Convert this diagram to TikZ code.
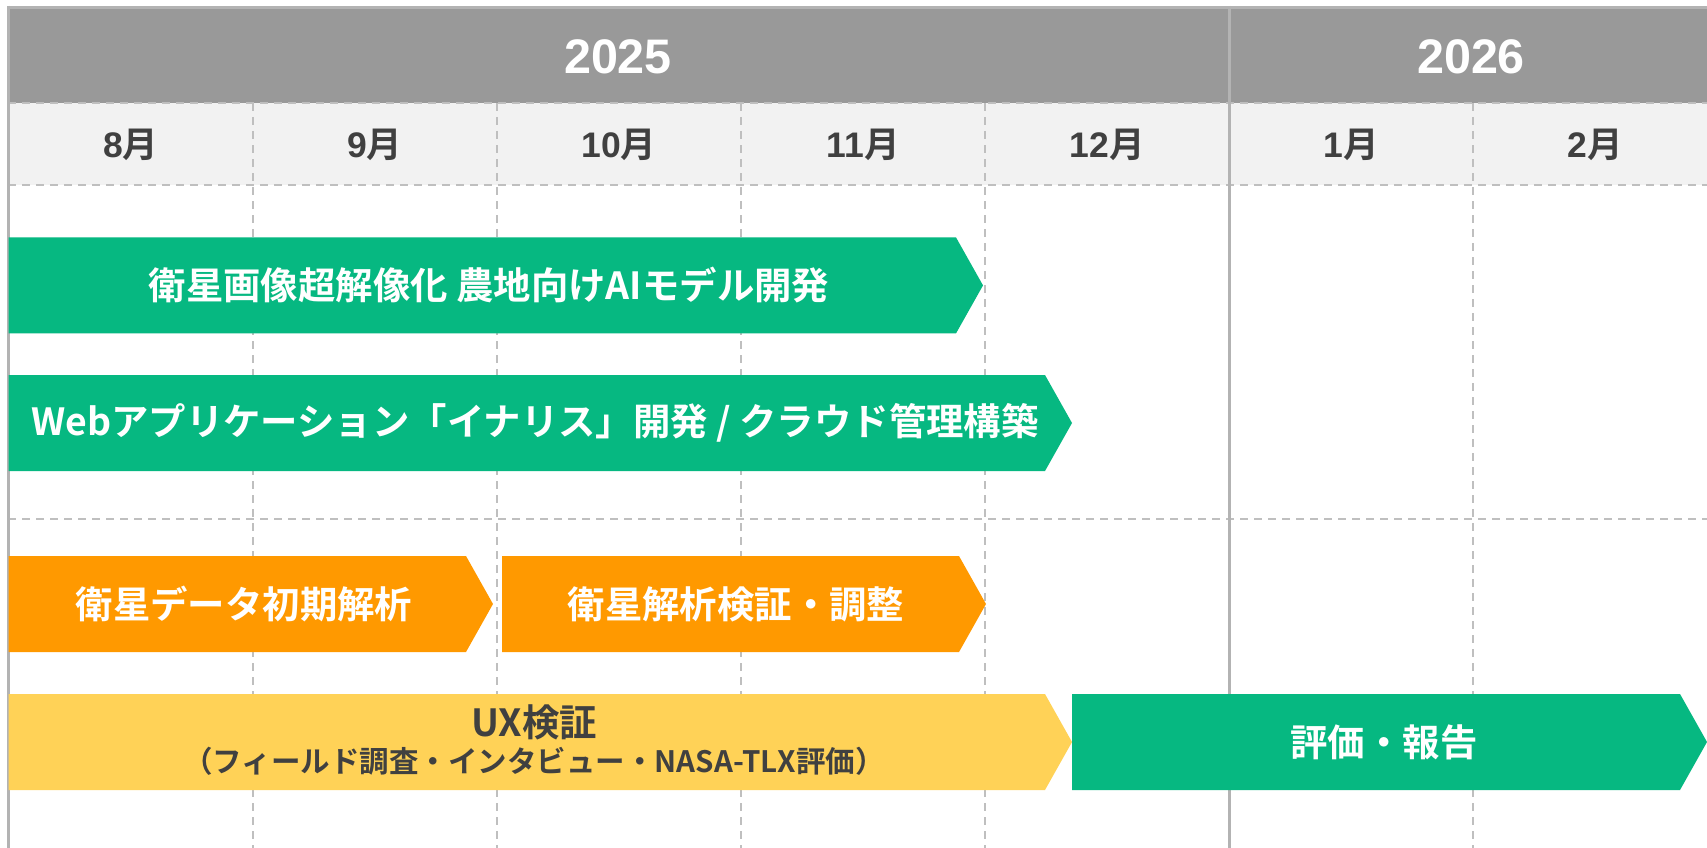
\documentclass[tikz,border=0pt]{standalone}
\usepackage{fontspec}
\newfontfamily\jp{Noto Sans CJK JP}[BoldFont={Noto Sans CJK JP Bold}]
\newfontfamily\lib{Liberation Sans}
\definecolor{hdrgray}{RGB}{153,153,153}
\definecolor{monbg}{RGB}{242,242,242}
\definecolor{lngray}{RGB}{179,179,179}
\definecolor{dashgray}{RGB}{191,191,191}
\definecolor{barGreen}{RGB}{6,184,129}
\definecolor{barOrange}{RGB}{255,153,0}
\definecolor{barYellow}{RGB}{255,210,87}
\definecolor{darktxt}{RGB}{64,64,64}
\newcommand\taskbar[4]{\fill[#1] (#2,#4+48) -- (#3,#4+48) -- (#3+27,#4) -- (#3,#4-48) -- (#2,#4-48) -- cycle;}
\newcommand\mon[1]{{\lib\bfseries #1}{\jp\bfseries 月}}
\tikzset{
  solidln/.style={draw=lngray, line width=3pt},
  dashln/.style={draw=dashgray, line width=2pt, dash pattern=on 8pt off 6pt},
  yeartext/.style={text=white, font=\lib\bfseries\fontsize{48.5}{56}\selectfont, inner sep=0pt},
  montext/.style={text=darktxt, font=\fontsize{35.5}{42}\selectfont, inner sep=0pt},
  bartext/.style={text=white, font=\jp\bfseries\fontsize{37.4}{44}\selectfont, inner sep=0pt},
  uxtext/.style={text=darktxt, font=\jp\bfseries\fontsize{37.4}{44}\selectfont, inner sep=0pt},
  uxsub/.style={text=darktxt, font=\jp\bfseries\fontsize{29.5}{34}\selectfont, inner sep=0pt}
}
\begin{document}
\begin{tikzpicture}[x=1pt,y=1pt]
\useasboundingbox (0,0) rectangle (1707,-848);
\fill[white] (0,0) rectangle (1707,-848);
% header rows
\fill[hdrgray] (8,-8) rectangle (1707,-103);
\fill[monbg] (8,-103) rectangle (1707,-185);
\draw[solidln] (8,-7.5) -- (1707,-7.5);
% grid
\draw[dashln] (8,-103) -- (1707,-103);
\draw[dashln] (8,-185) -- (1707,-185);
\draw[dashln] (8,-519) -- (1707,-519);
\foreach \x in {252.6,496.7,740.8,984.9,1473.1} \draw[dashln] (\x,-103) -- (\x,-848);
\draw[solidln] (1229,-6) -- (1229,-848);
\draw[solidln] (8,-6) -- (8,-848);
% year labels
\node[yeartext] (y2025) at (618,-56.6) {2025};
\node[yeartext] (y2026) at (1471,-56.6) {2026};
% month labels
\node[montext] (m8) at (130.7,-145) {\mon{8}};
\node[montext] (m9) at (374.8,-145) {\mon{9}};
\node[montext] (m10) at (618.9,-145) {\mon{10}};
\node[montext] (m11) at (863,-145) {\mon{11}};
\node[montext] (m12) at (1107.1,-145) {\mon{12}};
\node[montext] (m1) at (1351.2,-145) {\mon{1}};
\node[montext] (m2) at (1595.3,-145) {\mon{2}};
% bars
\taskbar{barGreen}{8.7}{956}{-285.4}
\taskbar{barGreen}{8.7}{1045}{-423}
\taskbar{barOrange}{8.7}{466}{-604}
\taskbar{barOrange}{502}{959}{-604}
\taskbar{barYellow}{8.7}{1045}{-742}
\taskbar{barGreen}{1072}{1680}{-742}
% bar labels
\node[bartext] (t1) at (489,-285.4) {衛星画像超解像化 農地向けAIモデル開発};
\node[bartext] (t2) at (535,-423) {Webアプリケーション「イナリス」開発 / クラウド管理構築};
\node[bartext] (t3) at (244,-604) {衛星データ初期解析};
\node[bartext] (t4) at (736,-604) {衛星解析検証・調整};
\node[uxtext] (t5a) at (534,-722) {UX検証};
\node[uxsub] (t5b) at (534,-761) {（フィールド調査・インタビュー・NASA-TLX評価）};
\node[bartext] (t6) at (1384,-742) {評価・報告};
\end{tikzpicture}
\end{document}
